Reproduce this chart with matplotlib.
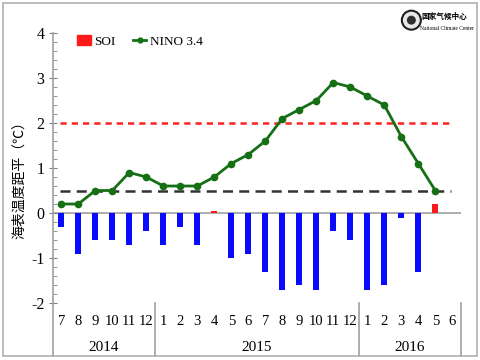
import numpy as np
import matplotlib.pyplot as plt
from matplotlib.patches import Rectangle, Ellipse
from matplotlib.lines import Line2D
import matplotlib.transforms as mtransforms

plt.rcParams['font.family'] = ['Liberation Serif', 'Noto Sans CJK SC']

# Data (Jul 2014 - Jun 2016)
months = ['7', '8', '9', '10', '11', '12',
          '1', '2', '3', '4', '5', '6', '7', '8', '9', '10', '11', '12',
          '1', '2', '3', '4', '5', '6']
years = ['2014', '2015', '2016']
year_bounds = [0, 6, 18, 24]
nino34 = [0.2, 0.2, 0.5, 0.5, 0.9, 0.8,
          0.6, 0.6, 0.6, 0.8, 1.1, 1.3, 1.6, 2.1, 2.3, 2.5, 2.9, 2.8,
          2.6, 2.4, 1.7, 1.1, 0.5, np.nan]
soi = [-0.3, -0.9, -0.6, -0.6, -0.7, -0.4,
       -0.7, -0.3, -0.7, 0.05, -1.0, -0.9, -1.3, -1.7, -1.6, -1.7, -0.4, -0.6,
       -1.7, -1.6, -0.1, -1.3, 0.2, np.nan]

x = np.arange(len(months)) + 0.5

fig = plt.figure(figsize=(4.8, 3.6), dpi=100)
ax = fig.add_axes([0.110, 0.1583, 0.850, 0.75])

# outer frame
fig.patches.append(Rectangle((0.006, 0.011), 0.988, 0.981, transform=fig.transFigure,
                             fill=False, edgecolor='#b0b0b0', linewidth=1.2))

soi_arr = np.nan_to_num(np.array(soi))
colors = ['#ff1a1a' if v > 0 else '#0a0aff' for v in soi_arr]
ax.bar(x, soi_arr, width=0.36, color=colors, zorder=2)
ax.plot(x, nino34, color='#157015', linewidth=2, marker='o', markersize=4.5, zorder=4)

# thresholds
ax.hlines(2.0, 0.4, 23.4, colors='#ff2020', linestyles=(0, (2.5, 2)), linewidth=1.8, zorder=3)
ax.hlines(0.5, 0.4, 23.4, colors='#333333', linestyles=(0, (4, 2.5)), linewidth=1.8, zorder=3)
ax.axhline(0, color='#a0a0a0', linewidth=1.2, zorder=1)

ax.set_xlim(0, 24)
ax.set_ylim(-2, 4)
ax.set_yticks(range(-2, 5))
ax.set_yticks(np.arange(-2, 4.01, 0.2), minor=True)
ax.set_yticklabels([str(v) for v in range(-2, 5)], fontsize=11.5)
ax.tick_params(axis='y', which='major', direction='inout', length=6, color='#808080', pad=3)
ax.tick_params(axis='y', which='minor', direction='in', length=3, color='#808080')
ax.set_xticks([])
for s in ['top', 'right', 'bottom']:
    ax.spines[s].set_visible(False)
ax.spines['left'].set_color('#a0a0a0')
ax.spines['left'].set_linewidth(1.2)

trans = mtransforms.blended_transform_factory(ax.transData, ax.transAxes)
for xi, m in zip(x, months):
    ax.text(xi, -0.07, m, transform=trans, ha='center', va='center', fontsize=10.5)
for i, yr in enumerate(years):
    ax.text((year_bounds[i] + year_bounds[i + 1]) / 2, -0.165, yr, transform=trans,
            ha='center', va='center', fontsize=11)
for b in year_bounds:
    ax.plot([b, b], [0, -0.195], transform=trans, color='#a0a0a0', linewidth=1.2, clip_on=False)

ax.set_ylabel('海表温度距平（℃）', family=['Noto Sans CJK SC'], fontsize=10)
ax.yaxis.set_label_coords(-0.066, 0.47)

handles = [Rectangle((0, 0), 1, 1, color='#ff1a1a'),
           Line2D([], [], color='#157015', linewidth=2, marker='o', markersize=3.5)]
ax.legend(handles, ['SOI', 'NINO 3.4'], loc='upper left', bbox_to_anchor=(0.03, 1.035),
          ncol=2, frameon=False, fontsize=9.5, handlelength=1.05, handletextpad=0.25,
          columnspacing=1.3)

# logo
fig.patches.append(Ellipse((0.857, 0.944), 19 / 480, 19 / 360, transform=fig.transFigure,
                           facecolor='#e8e8e8', edgecolor='#202020', linewidth=1.5))
fig.patches.append(Ellipse((0.857, 0.944), 9 / 480, 9 / 360, transform=fig.transFigure,
                           facecolor='#303030', edgecolor='none'))
fig.text(0.878, 0.955, '国家气候中心', family=['Noto Sans CJK SC'], fontsize=5.5,
         ha='left', va='center', weight='bold')
fig.text(0.876, 0.922, 'National Climate Center', fontsize=4, ha='left', va='center')

fig.savefig('out.png', dpi=100)
